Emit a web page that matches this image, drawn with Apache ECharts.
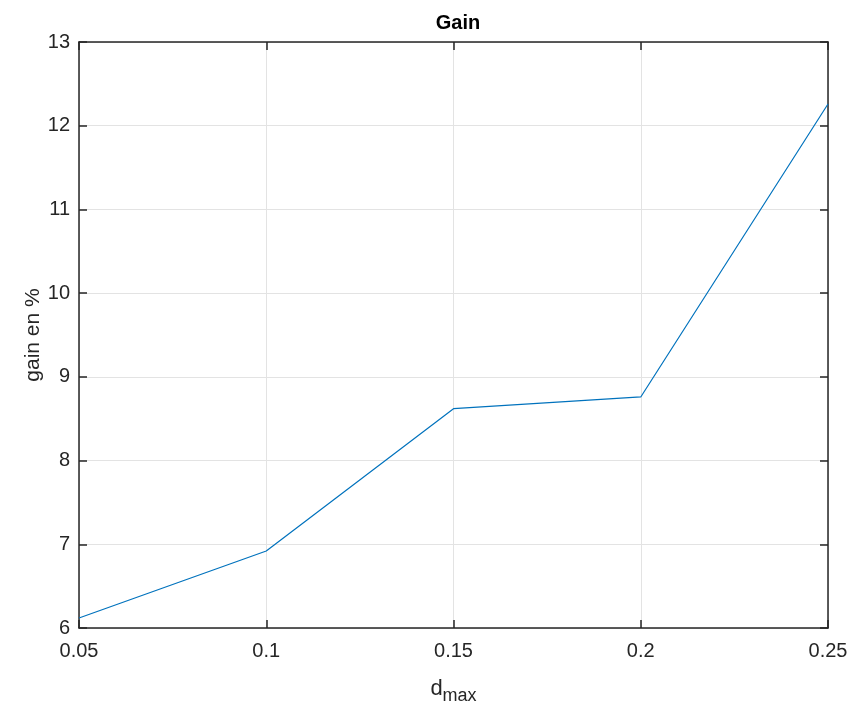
<!DOCTYPE html>
<html><head><meta charset="utf-8">
<script src="https://cdn.jsdelivr.net/npm/echarts@6/dist/echarts.min.js"></script>
<style>html,body{margin:0;padding:0;background:#fff;overflow:hidden}#c{width:850px;height:706px}</style>
</head><body><div id="c"></div>
<script>
const xValues = [0.05, 0.1, 0.15, 0.2, 0.25];
const gainValues = [6.12, 6.92, 8.62, 8.76, 12.26];
const titleText = 'Gain';
const yName = 'gain en %';

const chart = echarts.init(document.getElementById('c'), null, {renderer: 'canvas', width: 850, height: 706});
const axisCol = '#262626';
const fontFam = 'Liberation Sans, Arial, sans-serif';
const fmtX = v => String(Math.round(v * 100) / 100);
const baseAxis = {
  axisLine: {show: true, onZero: false, lineStyle: {color: axisCol, width: 1.5}},
  axisTick: {show: true, inside: true, length: 8, lineStyle: {color: axisCol, width: 1.5}},
  splitLine: {show: false}
};
chart.setOption({
  backgroundColor: '#fff',
  animation: false,
  title: {text: titleText, left: 453, textAlign: 'center', top: 8,
    textStyle: {fontFamily: fontFam, fontSize: 20, fontWeight: 'bold', color: '#000'}},
  grid: {left: 79, width: 749, top: 42, height: 586, containLabel: false, outerBoundsMode: 'none'},
  xAxis: [
    Object.assign({}, baseAxis, {type: 'value', position: 'bottom', min: 0.05, max: 0.25, interval: 0.05,
      splitLine: {show: true, lineStyle: {color: '#e3e3e3', width: 1}},
      axisLabel: {formatter: fmtX, fontFamily: fontFam, fontSize: 20, color: axisCol, margin: 13},
      name: '{d|d}{s|max}', nameLocation: 'middle', nameGap: 45, nameMoveOverlap: false,
      nameTextStyle: {rich: {d: {fontFamily: fontFam, fontSize: 22, color: axisCol},
        s: {fontFamily: fontFam, fontSize: 18, color: axisCol, verticalAlign: 'bottom', padding: [14, 0, 0, 0]}}}}),
    Object.assign({}, baseAxis, {type: 'value', position: 'top', min: 0.05, max: 0.25, interval: 0.05,
      axisLabel: {show: false}})
  ],
  yAxis: [
    Object.assign({}, baseAxis, {type: 'value', position: 'left', min: 6, max: 13, interval: 1,
      splitLine: {show: true, lineStyle: {color: '#e3e3e3', width: 1}},
      axisLabel: {fontFamily: fontFam, fontSize: 20, color: axisCol, margin: 9},
      name: yName, nameLocation: 'middle', nameGap: 35, nameMoveOverlap: false,
      nameTextStyle: {fontFamily: fontFam, fontSize: 21, color: axisCol}}),
    Object.assign({}, baseAxis, {type: 'value', position: 'right', min: 6, max: 13, interval: 1,
      axisLabel: {show: false}})
  ],
  series: [{
    type: 'line', xAxisIndex: 0, yAxisIndex: 0,
    data: xValues.map((x, i) => [x, gainValues[i]]),
    showSymbol: false, symbol: 'none',
    lineStyle: {color: '#0072BD', width: 1.2},
    itemStyle: {color: '#0072BD'}
  }]
});
</script>
</body></html>
